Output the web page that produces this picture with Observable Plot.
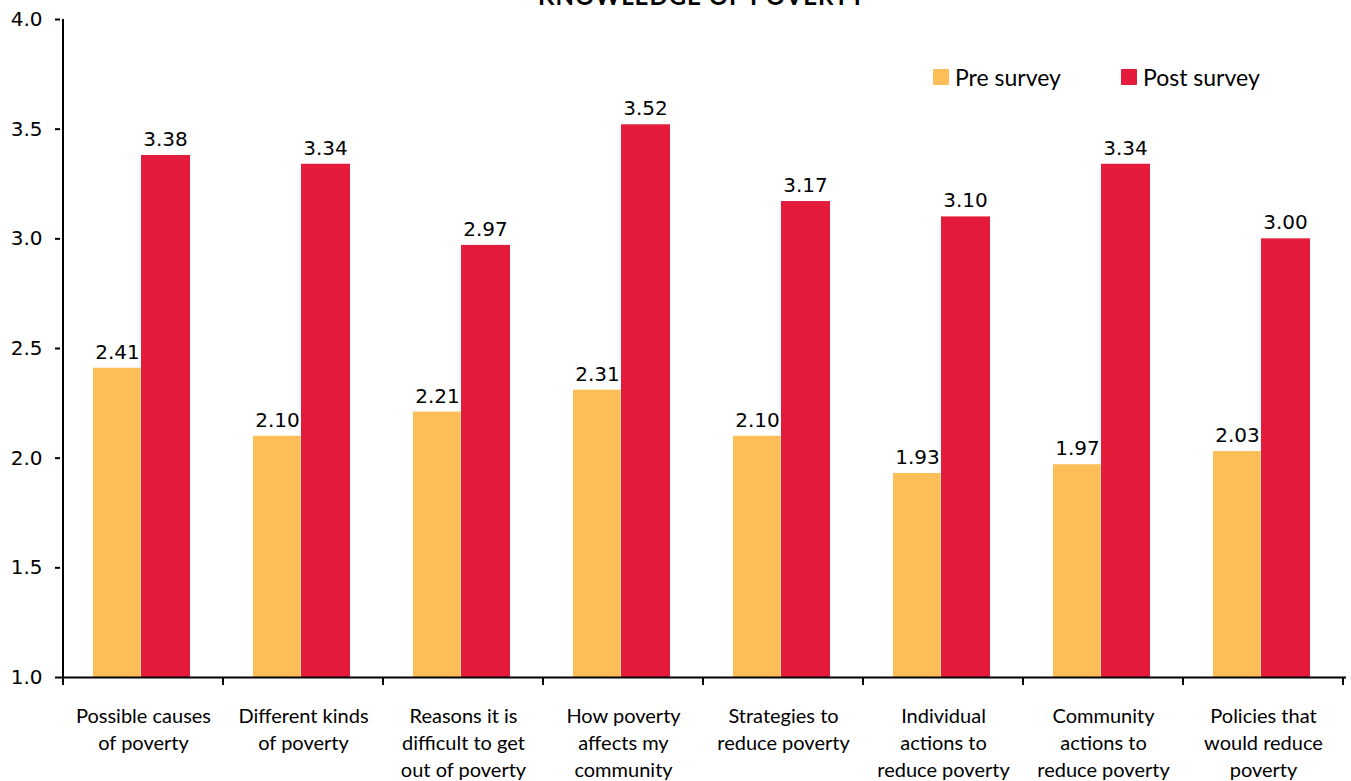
<!DOCTYPE html>
<html>
<head>
<meta charset="utf-8">
<script src="https://cdn.jsdelivr.net/npm/d3@7"></script>
<script src="https://cdn.jsdelivr.net/npm/@observablehq/plot@0.6"></script>
<style>
  html, body { margin: 0; padding: 0; background: #fff; overflow: hidden; }
  #wrap { position: relative; width: 1351px; height: 781px; }
  #title { position: absolute; left: 0; width: 1404px; text-align: center; top: -16px;
           font: bold 24px Lato, "Open Sans", sans-serif; line-height: 24px; color: #000; letter-spacing: 1px; }
  .leg { position: absolute; display: flex; align-items: center; font: 23px Lato, sans-serif; color: #000; top: 63px; }
  .sw { width: 16px; height: 16px; margin-right: 6px; border-radius: 1px; }
</style>
</head>
<body>
<div id="wrap">
  <div id="title">KNOWLEDGE OF POVERTY</div>
</div>
<script>
const categories = [
  "Possible causes\nof poverty",
  "Different kinds\nof poverty",
  "Reasons it is\ndifficult to get\nout of poverty",
  "How poverty\naffects my\ncommunity",
  "Strategies to\nreduce poverty",
  "Individual\nactions to\nreduce poverty",
  "Community\nactions to\nreduce poverty",
  "Policies that\nwould reduce\npoverty"
];
const preValues  = [2.41, 2.10, 2.21, 2.31, 2.10, 1.93, 1.97, 2.03];
const postValues = [3.38, 3.34, 2.97, 3.52, 3.17, 3.10, 3.34, 3.00];
const seriesNames = ["Pre survey", "Post survey"];
const seriesColors = ["#FDBD57", "#E41B3A"];
const yTicks = [1.0, 1.5, 2.0, 2.5, 3.0, 3.5, 4.0];

const pre = categories.map((c, i) => ({cat: c, value: preValues[i]}));
const post = categories.map((c, i) => ({cat: c, value: postValues[i]}));

const numFont = "DejaVu Sans";
const chart = Plot.plot({
  width: 1351,
  height: 781,
  marginLeft: 60,
  marginRight: 5,
  marginTop: 19,
  marginBottom: 104,
  style: {background: "transparent", color: "#000"},
  x: {domain: categories, padding: 0},
  y: {domain: [1, 4]},
  marks: [
    Plot.barY(pre, {x: "cat", y1: 1, y2: "value", fill: seriesColors[0], insetLeft: 30, insetRight: 82.5}),
    Plot.barY(post, {x: "cat", y1: 1, y2: "value", fill: seriesColors[1], insetLeft: 78, insetRight: 33}),
    Plot.text(pre, {x: "cat", y: "value", text: d => d.value.toFixed(2), dx: -26, dy: -16,
      fontSize: 20, fontFamily: numFont, fill: "#000"}),
    Plot.text(post, {x: "cat", y: "value", text: d => d.value.toFixed(2), dx: 22, dy: -16,
      fontSize: 20, fontFamily: numFont, fill: "#000"}),
    Plot.axisY({ticks: yTicks, tickFormat: d => d.toFixed(1), tickSize: 5, tickPadding: 13,
      fontSize: 20, fontFamily: numFont, label: null}),
    Plot.axisX({tickSize: 0, tickPadding: 26, fontSize: 20, fontFamily: "Lato", lineHeight: 1.35,
      label: null, lineAnchor: "top"}),
    Plot.ruleY([1], {stroke: "#000", strokeWidth: 2})
  ]
});

document.getElementById("wrap").appendChild(chart);
chart.style.position = "absolute";
chart.style.left = "0";
chart.style.top = "0";

// y axis line and category boundary ticks from the library's scales
const xs = chart.scale("x");
const ys = chart.scale("y");
const svg = d3.select(chart);
const yTop = ys.apply(4), yBot = ys.apply(1);
const g = svg.append("g").attr("stroke", "#000").attr("stroke-width", 2);
const x0 = xs.apply(categories[0]);
g.append("line").attr("x1", x0).attr("x2", x0).attr("y1", yTop).attr("y2", yBot);
const bounds = categories.map(c => xs.apply(c)).concat([xs.apply(categories[categories.length - 1]) + xs.bandwidth]);
bounds.forEach(b => g.append("line").attr("x1", b).attr("x2", b).attr("y1", yBot).attr("y2", yBot + 8));
svg.selectAll("g[aria-label='y-axis tick'] path").attr("stroke-width", 2);

// legend
const wrap = document.getElementById("wrap");
const legLeft = [933, 1121];
seriesNames.forEach((name, i) => {
  const d = document.createElement("div");
  d.className = "leg";
  d.style.left = legLeft[i] + "px";
  d.innerHTML = `<div class="sw" style="background:${seriesColors[i]}"></div><span>${name}</span>`;
  wrap.appendChild(d);
});
</script>
</body>
</html>
